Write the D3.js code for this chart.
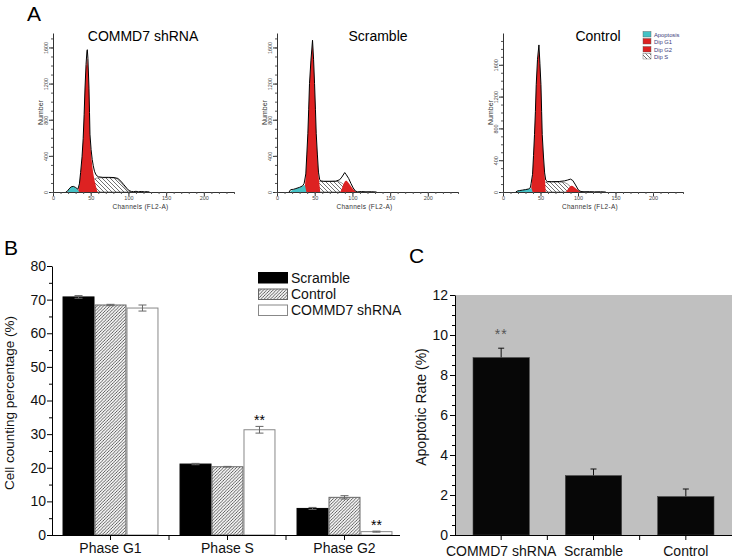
<!DOCTYPE html>
<html><head><meta charset="utf-8">
<script src="https://cdnjs.cloudflare.com/ajax/libs/d3/7.8.5/d3.min.js"></script>
<style>body{margin:0;background:#fff}svg{display:block;font-family:"Liberation Sans",Arial,sans-serif}</style>
</head><body><svg id="c" width="737" height="559"></svg>
<script>
// ---------- Panel A data (channel, count) ----------
const shApop=[[19,0],[21,30],[24,55],[27,60],[30,48],[33,22],[35,0]];
const shG1=[[33,0],[35,80],[36.6,207],[38.5,380],[40,580],[41.3,850],[42.4,1130],[43.8,1380],[45.4,1490],[46.5,1380],[47.7,1130],[48.4,850],[49,600],[50.5,420],[52,290],[53.4,207],[55,130],[57,60],[59,0]];
const shS=[[45,0],[48,40],[51,95],[54,140],[58,155],[65,158],[72,158],[80,155],[85,145],[89,115],[93,75],[97,35],[101,8],[103,0]];
const shG2=[];
const shEnv=[[17,0],[19,8],[21,32],[24,57],[27,62],[30,50],[33,30],[35,90],[36.6,215],[38.5,390],[40,590],[41.3,860],[42.4,1140],[43.8,1410],[45,1560],[45.5,1575],[46.3,1480],[47.7,1150],[48.4,880],[49,640],[50.5,470],[52,360],[53.4,290],[55,230],[57,190],[60,168],[66,162],[74,162],[81,160],[86,150],[90,120],[94,80],[98,40],[101,15],[104,6],[107,3],[110,8],[113,2],[117,6],[121,2],[125,4],[128,0]];

const scApop=[[17,0],[20,20],[25,35],[30,50],[34,65],[37,78],[39,0]];
const scG1=[[36.4,0],[38.2,189],[39.5,400],[40.9,633],[42,900],[43.1,1189],[45,1450],[47.1,1640],[48.5,1450],[49.8,1189],[51,900],[52,633],[53.5,400],[55,189],[56.2,90],[57.3,0]];
const scS=[[45,0],[48,50],[52,110],[56,118],[65,118],[75,118],[82,115],[86,100],[90,70],[94,35],[97,0]];
const scG2=[[84,0],[86,40],[88,85],[90,115],[91.6,126],[93,120],[95,100],[98,65],[101,30],[104,8],[106,0]];
const scEnv=[[16,0],[18,25],[20,28],[22,30],[25,38],[30,52],[34,68],[36,95],[38.2,200],[39.5,410],[40.9,645],[42,910],[43.1,1200],[45,1460],[47.1,1680],[48.5,1470],[49.8,1200],[51,910],[52,650],[53.5,420],[55,220],[56.5,140],[58,122],[62,118],[70,118],[78,120],[83,135],[86,165],[89.8,215],[92,190],[95,150],[98,95],[101,45],[104,10],[107,2],[112,5],[118,2],[125,3],[132,0]];

const ctApop=[[18,0],[20,15],[25,22],[30,30],[35,40],[38,46],[39.5,0]];
const ctG1=[[37,0],[39.4,212],[40.7,450],[42,712],[43.2,1000],[44.3,1337],[46,1650],[47.9,1800],[49.2,1600],[50.6,1337],[51.5,1000],[52.3,712],[54,420],[55.5,212],[56.3,100],[57,0]];
const ctS=[[45,0],[48,55],[52,120],[56,125],[65,125],[75,125],[82,120],[86,100],[90,65],[94,30],[97,0]];
const ctG2=[[84,0],[86.5,35],[89,65],[91,80],[93,75],[96,55],[99,30],[102,10],[104,0]];
const ctEnv=[[17,0],[19,12],[22,18],[26,24],[30,30],[34,38],[36.5,55],[37.5,110],[39.4,222],[40.7,460],[42,722],[43.2,1010],[44.3,1350],[46,1670],[47.9,1850],[49.2,1620],[50.6,1350],[51.5,1010],[52.3,722],[54,440],[55.5,240],[57,150],[59,132],[65,130],[75,132],[82,140],[86,150],[90,162],[93,145],[96,100],[99,50],[101,20],[104,6],[108,3],[115,4],[122,2],[130,3],[137,0]];

const histTitles=["COMMD7 shRNA","Scramble","Control"];
const histYTicks=[0,400,800,1200,1600];
const histXTicks=[0,50,100,150,200];
const histLegend=["Apoptosis","Dip G1","Dip G2","Dip S"];

// ---------- Panel B data ----------
const phases=["Phase G1","Phase S","Phase G2"];
const groupsB=["Scramble","Control","COMMD7 shRNA"];
const scrambleVals=[70.8,21.1,7.9], scrambleErr=[0.4,0.2,0.3];
const controlVals=[68.4,20.3,11.2], controlErr=[0.2,0.1,0.5];
const commdVals=[67.5,31.3,1.0], commdErr=[0.9,1.0,0.15];
const bYTicks=[0,10,20,30,40,50,60,70,80];

// ---------- Panel C data ----------
const groupsC=["COMMD7 shRNA","Scramble","Control"];
const apoVals=[8.87,2.97,1.92], apoErr=[0.47,0.33,0.38];
const cYTicks=[0,2,4,6,8,10,12];

const svg=d3.select("#c");
const defs=svg.append("defs");
defs.append("pattern").attr("id","hatchA").attr("patternUnits","userSpaceOnUse").attr("width",4).attr("height",4)
  .call(p=>{p.append("rect").attr("width",4).attr("height",4).attr("fill","#fff");
    p.append("path").attr("d","M-1,-1L5,5M3,-1L5,1M-1,3L1,5").attr("stroke","#333").attr("stroke-width",0.7);});
defs.append("pattern").attr("id","hatchB").attr("patternUnits","userSpaceOnUse").attr("width",3.2).attr("height",3.2)
  .call(p=>{p.append("rect").attr("width",3.2).attr("height",3.2).attr("fill","#f2f2f2");
    p.append("path").attr("d","M-1,4.2L4.2,-1M-1,1L1,-1M2.2,4.2L4.2,2.2").attr("stroke","#333").attr("stroke-width",0.75);});

const RED="#dd2222", CYAN="#45c2c6";
// ---------- Panel A ----------
const histPanels=[
 {x0:53,x1:234,ymax:1760,apop:shApop,g1:shG1,s:shS,g2:shG2,env:shEnv,title:histTitles[0],tx:143},
 {x0:277,x1:458,ymax:1760,apop:scApop,g1:scG1,s:scS,g2:scG2,env:scEnv,title:histTitles[1],tx:378},
 {x0:503,x1:683,ymax:2000,apop:ctApop,g1:ctG1,s:ctS,g2:ctG2,env:ctEnv,title:histTitles[2],tx:598}
];
histPanels.forEach(P=>{
  const g=svg.append("g");
  const x=d3.scaleLinear().domain([0,240]).range([P.x0,P.x1]);
  const y=d3.scaleLinear().domain([0,P.ymax]).range([192,33]);
  const area=d3.area().x(d=>x(d[0])).y0(y(0)).y1(d=>y(d[1]));
  const line=d3.line().x(d=>x(d[0])).y(d=>y(d[1]));
  g.append("path").attr("d",area(P.s)).attr("fill","url(#hatchA)").attr("stroke","#333").attr("stroke-width",0.5);
  if(P.g2.length) g.append("path").attr("d",area(P.g2)).attr("fill",RED);
  g.append("path").attr("d",area(P.g1)).attr("fill",RED);
  g.append("path").attr("d",area(P.apop)).attr("fill",CYAN);
  g.append("path").attr("d",line(P.env)).attr("fill","none").attr("stroke","#000").attr("stroke-width",1);
  // axes
  const ax=g.append("g").attr("transform","translate(0,192)").call(d3.axisBottom(x).tickValues(histXTicks).tickSize(4).tickSizeOuter(0).tickFormat(d3.format("d")));
  ax.selectAll("text").attr("font-size",5.5).attr("fill","#444").attr("y",4).attr("dy","0.71em").attr("font-family","Liberation Sans");
  ax.selectAll(".tick line").attr("stroke","#333");
  ax.select(".domain").attr("stroke","#333");
  g.append("g").attr("transform","translate(0,192)").call(d3.axisBottom(x).tickValues(d3.range(0,241,10)).tickSize(2).tickFormat(""))
   .call(a=>a.select(".domain").remove()).selectAll("line").attr("stroke","#555");
  const ay=g.append("g").attr("transform",`translate(${P.x0},0)`).call(d3.axisLeft(y).tickValues(histYTicks).tickSize(4).tickSizeOuter(0).tickFormat(d3.format("d")));
  ay.select(".domain").attr("stroke","#333");
  ay.selectAll(".tick line").attr("stroke","#333");
  ay.selectAll("text").attr("font-size",5.5).attr("fill","#444").attr("font-family","Liberation Sans")
    .attr("transform","rotate(-90)").attr("x",0).attr("y",-5).attr("dy",0).attr("text-anchor","middle");
  g.append("g").attr("transform",`translate(${P.x0},0)`).call(d3.axisLeft(y).tickValues(d3.range(0,P.ymax,100)).tickSize(2).tickFormat(""))
   .call(a=>a.select(".domain").remove()).selectAll("line").attr("stroke","#555");
  g.append("text").attr("transform",`translate(${P.x0-10},${(192+33)/2}) rotate(-90)`).attr("text-anchor","middle")
    .attr("font-size",7).attr("fill","#333").text("Number");
  g.append("text").attr("x",x(116)).attr("y",208.5).attr("text-anchor","middle")
    .attr("font-size",6.5).attr("fill","#333").attr("letter-spacing",0.3).text("Channels (FL2-A)");
  g.append("text").attr("x",P.tx).attr("y",41).attr("text-anchor","middle").attr("font-size",14).attr("fill","#000").text(P.title);
});
// legend panel A
const legColors=[CYAN,RED,RED,"url(#hatchA)"];
const legY=[31.5,38.5,46.5,53.5];
histLegend.forEach((t,i)=>{
  svg.append("rect").attr("x",643).attr("y",legY[i]).attr("width",8).attr("height",5.5).attr("fill",legColors[i]).attr("stroke","#555").attr("stroke-width",0.4);
  svg.append("text").attr("x",654).attr("y",legY[i]+5).attr("font-size",5.8).attr("fill","#3a3a7a").text(t);
});
svg.append("text").attr("x",27).attr("y",21).attr("font-size",21).text("A");

// ---------- Panel B ----------
const B=svg.append("g");
const yB=d3.scaleLinear().domain([0,80]).range([535,266]);
const x0=d3.scaleBand().domain(phases).range([52,403]);
const x1=d3.scaleBand().domain(groupsB).range([x0.bandwidth()*0.09,x0.bandwidth()*0.91]);
const seriesB=[
 {name:groupsB[0],vals:scrambleVals,err:scrambleErr,fill:"#000",stroke:"#000"},
 {name:groupsB[1],vals:controlVals,err:controlErr,fill:"url(#hatchB)",stroke:"#666"},
 {name:groupsB[2],vals:commdVals,err:commdErr,fill:"#fff",stroke:"#888"}];
seriesB.forEach(s=>{
  phases.forEach((p,i)=>{
    const bx=x0(p)+x1(s.name), w=x1.bandwidth();
    B.append("rect").attr("x",bx+0.5).attr("y",yB(s.vals[i])).attr("width",w-1).attr("height",yB(0)-yB(s.vals[i]))
      .attr("fill",s.fill).attr("stroke",s.stroke).attr("stroke-width",1);
    const cx=bx+w/2;
    B.append("path").attr("d",`M${cx},${yB(s.vals[i]-s.err[i])}V${yB(s.vals[i]+s.err[i])}M${cx-4},${yB(s.vals[i]+s.err[i])}H${cx+4}M${cx-4},${yB(s.vals[i]-s.err[i])}H${cx+4}`)
      .attr("stroke","#666").attr("stroke-width",1).attr("fill","none");
  });
});
// stars
[1,2].forEach(i=>{
  const bx=x0(phases[i])+x1(groupsB[2])+x1.bandwidth()/2;
  B.append("text").attr("x",bx).attr("y",yB(commdVals[i]+commdErr[i])-1).attr("text-anchor","middle").attr("font-size",14).text("**");
});
// axes B
const ayB=B.append("g").attr("transform","translate(52,0)").call(d3.axisLeft(yB).tickValues(bYTicks).tickSize(5).tickSizeOuter(0));
ayB.selectAll("text").attr("font-size",14).attr("fill","#111").attr("font-family","Liberation Sans").attr("x",-6);
B.append("g").attr("transform","translate(52,0)").call(d3.axisLeft(yB).tickValues(d3.range(5,80,10)).tickSize(3).tickFormat("")).call(a=>a.select(".domain").remove());
B.append("line").attr("x1",52).attr("x2",400).attr("y1",535.5).attr("y2",535.5).attr("stroke","#000");
const bTicks=[...phases.map(p=>x0(p)+x0.bandwidth()/2), x0(phases[1]), x0(phases[2])];
bTicks.forEach(t=>B.append("line").attr("x1",t).attr("x2",t).attr("y1",535).attr("y2",540).attr("stroke","#000"));
phases.forEach(p=>B.append("text").attr("x",x0(p)+x0.bandwidth()/2).attr("y",553).attr("text-anchor","middle").attr("font-size",14).attr("fill","#111").text(p));
B.append("text").attr("transform","translate(14,403) rotate(-90)").attr("text-anchor","middle").attr("font-size",13.5).attr("fill","#111").text("Cell counting percentage (%)");
// legend B
const legBY=[272.5,289,305];
seriesB.forEach((s,i)=>{
  B.append("rect").attr("x",258.5).attr("y",legBY[i]).attr("width",29).attr("height",10.5).attr("fill",s.fill).attr("stroke",s.stroke);
  B.append("text").attr("x",291).attr("y",legBY[i]+10.3).attr("font-size",14).attr("fill","#111").text(s.name);
});
svg.append("text").attr("x",4).attr("y",255).attr("font-size",21).text("B");

// ---------- Panel C ----------
const C=svg.append("g");
const yC=d3.scaleLinear().domain([0,12]).range([535,295]);
const xC=d3.scaleBand().domain(groupsC).range([455,732]).paddingInner(0.39).paddingOuter(0.195);
C.append("rect").attr("x",455).attr("y",295).attr("width",277).attr("height",240).attr("fill","#c0c0c0");
groupsC.forEach((g,i)=>{
  const cx=xC(g)+xC.bandwidth()/2;
  C.append("path").attr("d",`M${cx},${yC(apoVals[i])}V${yC(apoVals[i]+apoErr[i])}M${cx-3},${yC(apoVals[i]+apoErr[i])}H${cx+3}`).attr("stroke","#111").attr("stroke-width",1);
  C.append("rect").attr("x",xC(g)).attr("y",yC(apoVals[i])).attr("width",xC.bandwidth()).attr("height",yC(0)-yC(apoVals[i])).attr("fill","#070707").attr("stroke","#444").attr("stroke-width",0.6);
});
C.append("text").attr("x",xC(groupsC[0])+xC.bandwidth()/2).attr("y",yC(apoVals[0]+apoErr[0])-9).attr("text-anchor","middle").attr("font-size",14).attr("fill","#555").attr("letter-spacing",1).text("**");
const ayC=C.append("g").attr("transform","translate(455,0)").call(d3.axisLeft(yC).tickValues(cYTicks).tickSize(5).tickSizeOuter(0));
ayC.selectAll("text").attr("font-size",14).attr("fill","#111").attr("font-family","Liberation Sans").attr("x",-7);
C.append("g").attr("transform","translate(455,0)").call(d3.axisLeft(yC).tickValues(d3.range(0.5,12,0.5).filter(v=>v%2!==0)).tickSize(3).tickFormat("")).call(a=>a.select(".domain").remove());
C.append("line").attr("x1",455).attr("x2",732).attr("y1",535.5).attr("y2",535.5).attr("stroke","#000");
groupsC.forEach(g=>{const t=xC(g)+xC.bandwidth()/2;C.append("line").attr("x1",t).attr("x2",t).attr("y1",535).attr("y2",540).attr("stroke","#000");});
[1,2].forEach(i=>{const t=(xC(groupsC[i-1])+xC(groupsC[i])+xC.bandwidth())/2;C.append("line").attr("x1",t).attr("x2",t).attr("y1",535).attr("y2",540).attr("stroke","#000");});
groupsC.forEach(g=>C.append("text").attr("x",xC(g)+xC.bandwidth()/2).attr("y",556).attr("text-anchor","middle").attr("font-size",14).attr("fill","#111").text(g));
C.append("text").attr("transform","translate(426,407) rotate(-90)").attr("text-anchor","middle").attr("font-size",14).attr("fill","#111").text("Apoptotic Rate (%)");
svg.append("text").attr("x",409).attr("y",263).attr("font-size",21).text("C");
</script></body></html>
